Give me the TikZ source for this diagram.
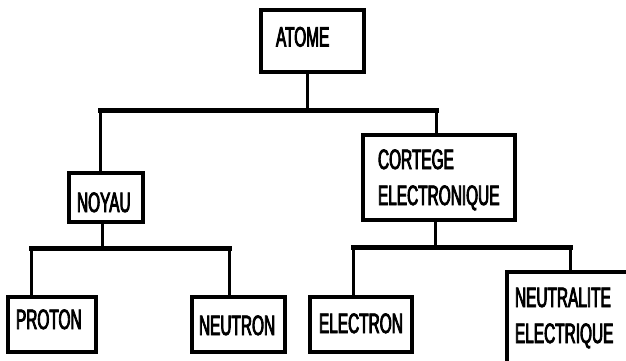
\documentclass[tikz,border=0pt]{standalone}
\usepackage{fontspec}
\setmainfont[FakeStretch=0.55,FakeBold=3]{Liberation Sans}
\begin{document}
\begin{tikzpicture}[x=1pt,y=-1pt,
  box/.style={draw=black, line width=3.2pt, inner sep=0pt, outer sep=0pt, anchor=north west},
  lbl/.style={inner sep=0pt, outer sep=0pt, anchor=base west, font=\fontsize{28}{28}\selectfont},
  stem/.style={draw=black, line width=3pt},
  bar/.style={draw=black, line width=5pt, line cap=rect}]
\useasboundingbox[fill=white] (0,0) rectangle (626,360);
% boxes
\node[box, minimum width=103pt, minimum height=62pt] (atome) at (261,10) {};
\node[box, minimum width=74pt, minimum height=49pt] (noyau) at (69,173) {};
\node[box, minimum width=152pt, minimum height=85pt] (cortege) at (363,135) {};
\node[box, minimum width=88pt, minimum height=55pt] (proton) at (8,297) {};
\node[box, minimum width=93pt, minimum height=55pt] (neutron) at (192,297) {};
\node[box, minimum width=102pt, minimum height=55pt] (electron) at (310,297) {};
\begin{scope}
\clip (0,0) rectangle (626,360);
\node[box, minimum width=140pt, minimum height=110pt] (neutral) at (507,272) {};
\end{scope}
% texts
\node[lbl] (atomeT) at (276,46.5) {ATOME};
\node[lbl] (noyauT) at (77,212) {NOYAU};
\node[lbl] (cortegeT1) at (378,169) {CORTEGE};
\node[lbl] (cortegeT2) at (378,205) {ELECTRONIQUE};
\node[lbl] (protonT) at (16,329) {PROTON};
\node[lbl] (neutronT) at (199,335) {NEUTRON};
\node[lbl] (electronT) at (319,333) {ELECTRON};
\node[lbl] (neutralT1) at (515,307) {NEUTRALITE};
\node[lbl] (neutralT2) at (515,343) {ELECTRIQUE};
% junction coordinates
\coordinate (j1) at (307,110.5);
\coordinate (j1l) at (100,110.5);
\coordinate (j1r) at (436,110.5);
\coordinate (j2) at (102,248);
\coordinate (j2l) at (31,248);
\coordinate (j2r) at (229,248);
\coordinate (j3) at (435,247);
\coordinate (j3l) at (353,247);
\coordinate (j3r) at (570,247);
% connectors
\draw[stem] (j1 |- atome.south) -- (j1);
\draw[bar] (j1l) -- (j1r);
\draw[stem] (j1l) -- (j1l |- noyau.north);
\draw[stem] (j1r) -- (j1r |- cortege.north);
\draw[stem] (j2 |- noyau.south) -- (j2);
\draw[bar] (j2l) -- (j2r);
\draw[stem] (j2l) -- (j2l |- proton.north);
\draw[stem] (j2r) -- (j2r |- neutron.north);
\draw[stem] (j3 |- cortege.south) -- (j3);
\draw[bar] (j3l) -- (j3r);
\draw[stem] (j3l) -- (j3l |- electron.north);
\draw[stem] (j3r) -- (j3r |- neutral.north);
\end{tikzpicture}
\end{document}
